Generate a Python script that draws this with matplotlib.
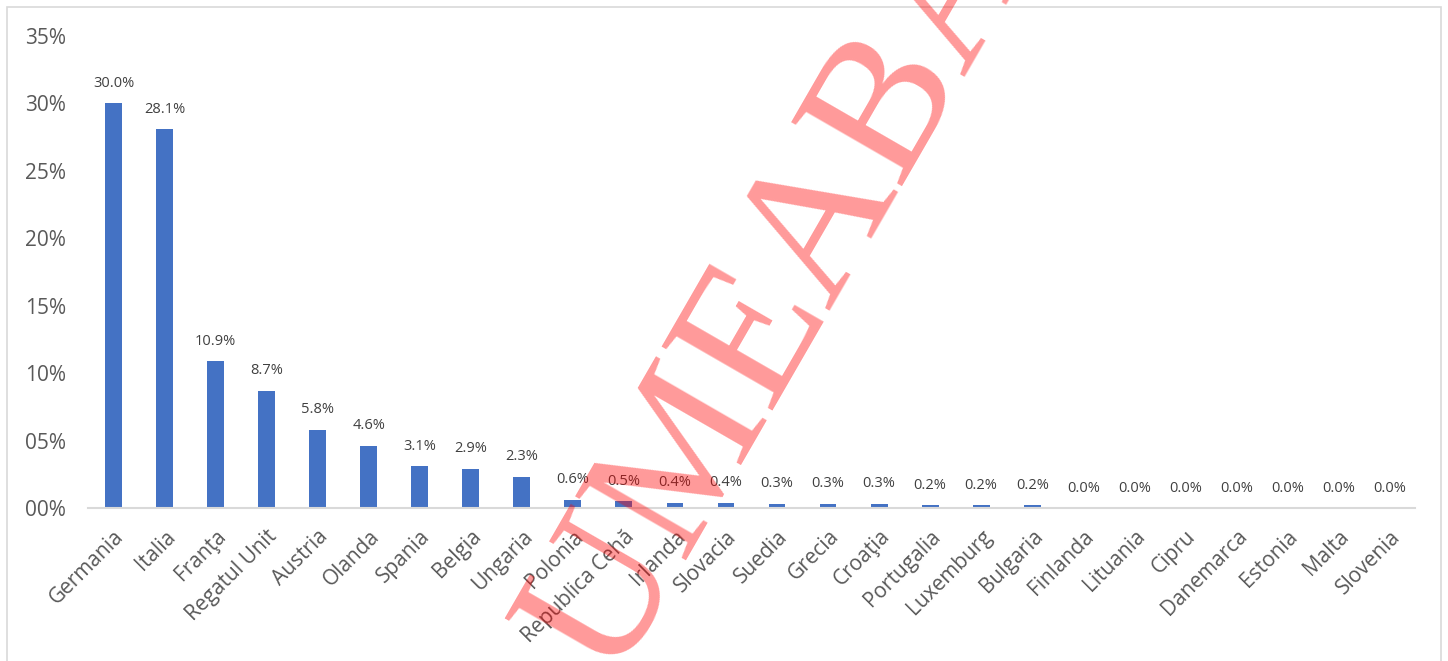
import matplotlib
matplotlib.use("Agg")
import matplotlib.pyplot as plt
from matplotlib.patches import Rectangle
from matplotlib.ticker import FuncFormatter

countries = ["Germania", "Italia", "Franţa", "Regatul Unit", "Austria", "Olanda",
             "Spania", "Belgia", "Ungaria", "Polonia", "Republica Cehă", "Irlanda",
             "Slovacia", "Suedia", "Grecia", "Croaţia", "Portugalia", "Luxemburg",
             "Bulgaria", "Finlanda", "Lituania", "Cipru", "Danemarca", "Estonia",
             "Malta", "Slovenia"]
shares = [30.0, 28.1, 10.9, 8.7, 5.8, 4.6, 3.1, 2.9, 2.3, 0.6, 0.5, 0.4, 0.4,
          0.3, 0.3, 0.3, 0.2, 0.2, 0.2, 0.0, 0.0, 0.0, 0.0, 0.0, 0.0, 0.0]
yticks = [0, 5, 10, 15, 20, 25, 30, 35]
watermark = "UMEABA"

plt.rcParams['font.family'] = ['Open Sans', 'DejaVu Sans']

W, H = 1448, 661
fig = plt.figure(figsize=(W / 100, H / 100), dpi=100)
fig.patch.set_facecolor('white')

# chart border
fig.patches.append(Rectangle((7 / W, -0.01), 1434 / W, 1 - 7 / H + 0.01,
                             transform=fig.transFigure, fill=False,
                             edgecolor='#d9d9d9', linewidth=1.2))

ax = fig.add_axes([88 / W, 1 - 508 / H, (1415 - 88) / W, (508 - 36) / H])
x = list(range(len(countries)))
bars = ax.bar(x, shares, width=0.33, color='#4472C4', zorder=2)

for xi, v in zip(x, shares):
    ax.annotate(f"{v:.1f}%", (xi, v), xytext=(0, 9), textcoords='offset points',
                ha='center', va='bottom', fontsize=10.5, color='#404040')

ax.set_xlim(-0.5, len(countries) - 0.5)
ax.set_ylim(0, 35)
ax.set_yticks(yticks)
ax.yaxis.set_major_formatter(FuncFormatter(lambda v, p: f"{int(v):02d}%"))
ax.tick_params(axis='y', length=0, pad=16, labelsize=15, labelcolor='#595959')
ax.set_xticks(x)
ax.set_xticklabels(countries, rotation=45, ha='right', va='top',
                   rotation_mode='anchor', fontsize=15, color='#595959')
ax.tick_params(axis='x', length=0, pad=13)
for s in ['top', 'right', 'left']:
    ax.spines[s].set_visible(False)
ax.spines['bottom'].set_color('#d9d9d9')
ax.spines['bottom'].set_linewidth(1.5)

# watermark
fig.text(612 / W, 1 - 682 / H, watermark, fontsize=140, family='Liberation Serif',
         color='red', alpha=0.4, rotation=60, rotation_mode='anchor',
         ha='left', va='baseline', zorder=10)

fig.savefig("out.png", dpi=100)
